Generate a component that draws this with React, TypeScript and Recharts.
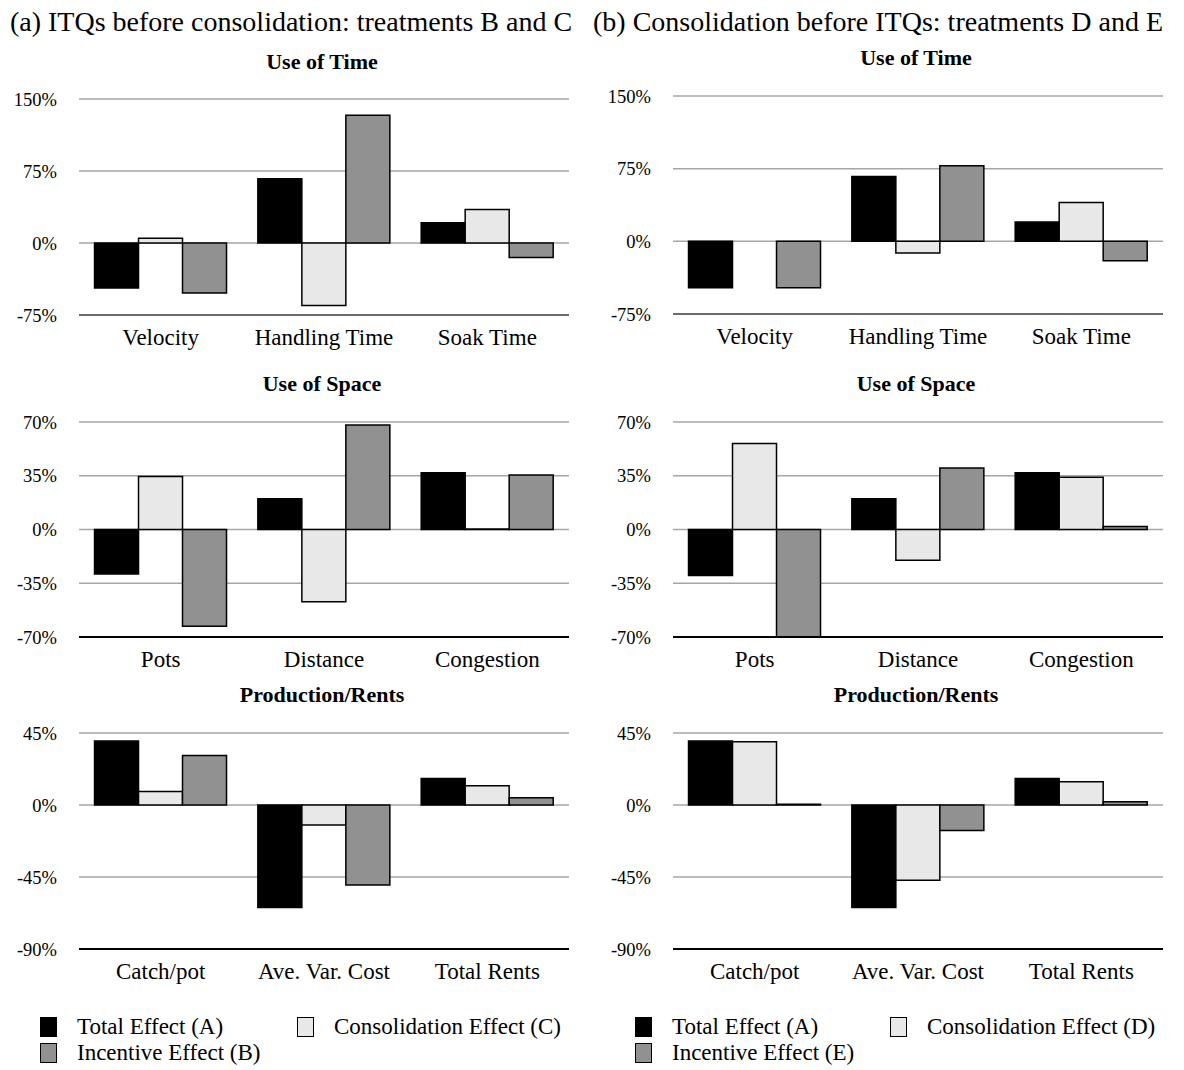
import React from 'react';
import { BarChart, Bar, XAxis, YAxis, CartesianGrid } from 'recharts';

const FONT = '"Liberation Serif", LiberationSerif, "DejaVu Serif", "Noto Serif", Times, serif';

// Categories
const timeCats = ['Velocity', 'Handling Time', 'Soak Time'];
const spaceCats = ['Pots', 'Distance', 'Congestion'];
const prodCats = ['Catch/pot', 'Ave. Var. Cost', 'Total Rents'];

// (a) ITQs before consolidation: treatments B and C
const aTimeTotal = [-47, 67, 21];
const aTimeCons = [5, -65, 35];
const aTimeInc = [-52, 133, -15];
const aSpaceTotal = [-29, 20, 37];
const aSpaceCons = [34.5, -47, 0.3];
const aSpaceInc = [-63, 68, 35.5];
const aProdTotal = [40, -64, 16.5];
const aProdCons = [8.5, -12.5, 12];
const aProdInc = [31, -50, 4.5];

// (b) Consolidation before ITQs: treatments D and E
const bTimeTotal = [-48, 67, 20];
const bTimeCons = [0, -12, 40];
const bTimeInc = [-48, 78, -20];
const bSpaceTotal = [-30, 20, 37];
const bSpaceCons = [56, -20, 34];
const bSpaceInc = [-70, 40, 2];
const bProdTotal = [40, -64, 16.5];
const bProdCons = [39.5, -47, 14.5];
const bProdInc = [0.5, -16, 2];

// Axis ticks
const timeTicks = [-75, 0, 75, 150];
const spaceTicks = [-70, -35, 0, 35, 70];
const prodTicks = [-90, -45, 0, 45];

const COLORS = { total: '#000000', cons: '#e8e8e8', inc: '#919191' };

const build = (cats: string[], t: number[], c: number[], i: number[]) =>
  cats.map((cat, k) => ({ cat, total: t[k], cons: c[k], inc: i[k] }));

type PanelProps = {
  left: number;
  plotTop: number;
  plotBottom: number;
  yAxisWidth: number;
  rightMargin: number;
  data: any[];
  ticks: number[];
  axisColor: string;
};

const Panel = ({ left, plotTop, plotBottom, yAxisWidth, rightMargin, data, ticks, axisColor }: PanelProps) => {
  const topM = 10;
  const xH = 40;
  const height = plotBottom - plotTop + topM + xH;
  return (
    <div style={{ position: 'absolute', left, top: plotTop - topM }}>
      <BarChart
        width={592}
        height={height}
        data={data}
        margin={{ top: topM, right: rightMargin, bottom: 0, left: 0 }}
        barCategoryGap="9.5%"
        barGap={0}
      >
        <CartesianGrid horizontal vertical={false} stroke="#a6a6a6" strokeWidth={1.5} />
        <XAxis
          dataKey="cat"
          interval={0}
          height={xH}
          tickLine={false}
          tickSize={0}
          tickMargin={14}
          axisLine={{ stroke: axisColor, strokeWidth: 2 }}
          tick={{ fill: '#000', fontSize: 23, fontFamily: FONT }}
        />
        <YAxis
          width={yAxisWidth}
          domain={[ticks[0], ticks[ticks.length - 1]]}
          ticks={ticks}
          allowDataOverflow
          tickLine={false}
          axisLine={false}
          tickSize={0}
          tickMargin={22}
          tickFormatter={(v: number) => `${v}%`}
          tick={{ fill: '#000', fontSize: 18.5, fontFamily: FONT }}
        />
        <Bar dataKey="total" fill={COLORS.total} stroke="#000" strokeWidth={1.5} isAnimationActive={false} />
        <Bar dataKey="cons" fill={COLORS.cons} stroke="#000" strokeWidth={1.5} isAnimationActive={false} />
        <Bar dataKey="inc" fill={COLORS.inc} stroke="#000" strokeWidth={1.5} isAnimationActive={false} />
      </BarChart>
    </div>
  );
};

const Title = ({ x, y, text, size, bold }: { x: number; y: number; text: string; size: number; bold?: boolean }) => (
  <div
    style={{
      position: 'absolute',
      left: x - 400,
      width: 800,
      top: y - size * 0.6,
      textAlign: 'center',
      fontSize: size,
      fontWeight: bold ? 'bold' : 'normal',
      fontFamily: FONT,
      lineHeight: `${size * 1.2}px`,
      whiteSpace: 'nowrap',
      color: '#000',
    }}
  >
    {text}
  </div>
);

const LegendItem = ({ x, y, color, label }: { x: number; y: number; color: string; label: string }) => (
  <div style={{ position: 'absolute', left: x, top: y - 13, height: 26, display: 'flex', alignItems: 'center', fontFamily: FONT, fontSize: 23, whiteSpace: 'nowrap' }}>
    <div style={{ width: 15, height: 18, background: color, border: '1px solid #000', marginRight: 20 }} />
    <span>{label}</span>
  </div>
);

export default function App() {
  return (
    <div style={{ position: 'absolute', left: 0, top: 0, width: 1184, height: 1070, background: '#fff', overflow: 'hidden', fontFamily: FONT }}>
      <Title x={291} y={22} text="(a) ITQs before consolidation: treatments B and C" size={28} />
      <Title x={878} y={22} text="(b) Consolidation before ITQs: treatments D and E" size={28} />

      <Title x={322} y={62} text="Use of Time" size={22} bold />
      <Title x={916} y={58} text="Use of Time" size={22} bold />
      <Title x={322} y={384} text="Use of Space" size={22} bold />
      <Title x={916} y={384} text="Use of Space" size={22} bold />
      <Title x={322} y={695} text="Production/Rents" size={22} bold />
      <Title x={916} y={695} text="Production/Rents" size={22} bold />

      <Panel left={0} plotTop={99} plotBottom={315} yAxisWidth={79} rightMargin={23}
        data={build(timeCats, aTimeTotal, aTimeCons, aTimeInc)} ticks={timeTicks} axisColor="#6b6b6b" />
      <Panel left={592} plotTop={96} plotBottom={314} yAxisWidth={81} rightMargin={21}
        data={build(timeCats, bTimeTotal, bTimeCons, bTimeInc)} ticks={timeTicks} axisColor="#6b6b6b" />
      <Panel left={0} plotTop={422} plotBottom={637} yAxisWidth={79} rightMargin={23}
        data={build(spaceCats, aSpaceTotal, aSpaceCons, aSpaceInc)} ticks={spaceTicks} axisColor="#000" />
      <Panel left={592} plotTop={422} plotBottom={637} yAxisWidth={81} rightMargin={21}
        data={build(spaceCats, bSpaceTotal, bSpaceCons, bSpaceInc)} ticks={spaceTicks} axisColor="#000" />
      <Panel left={0} plotTop={733} plotBottom={949} yAxisWidth={79} rightMargin={23}
        data={build(prodCats, aProdTotal, aProdCons, aProdInc)} ticks={prodTicks} axisColor="#000" />
      <Panel left={592} plotTop={733} plotBottom={949} yAxisWidth={81} rightMargin={21}
        data={build(prodCats, bProdTotal, bProdCons, bProdInc)} ticks={prodTicks} axisColor="#000" />

      <LegendItem x={40} y={1027} color={COLORS.total} label="Total Effect (A)" />
      <LegendItem x={297} y={1027} color={COLORS.cons} label="Consolidation Effect (C)" />
      <LegendItem x={40} y={1053} color={COLORS.inc} label="Incentive Effect (B)" />
      <LegendItem x={635} y={1027} color={COLORS.total} label="Total Effect (A)" />
      <LegendItem x={890} y={1027} color={COLORS.cons} label="Consolidation Effect (D)" />
      <LegendItem x={635} y={1053} color={COLORS.inc} label="Incentive Effect (E)" />
    </div>
  );
}
